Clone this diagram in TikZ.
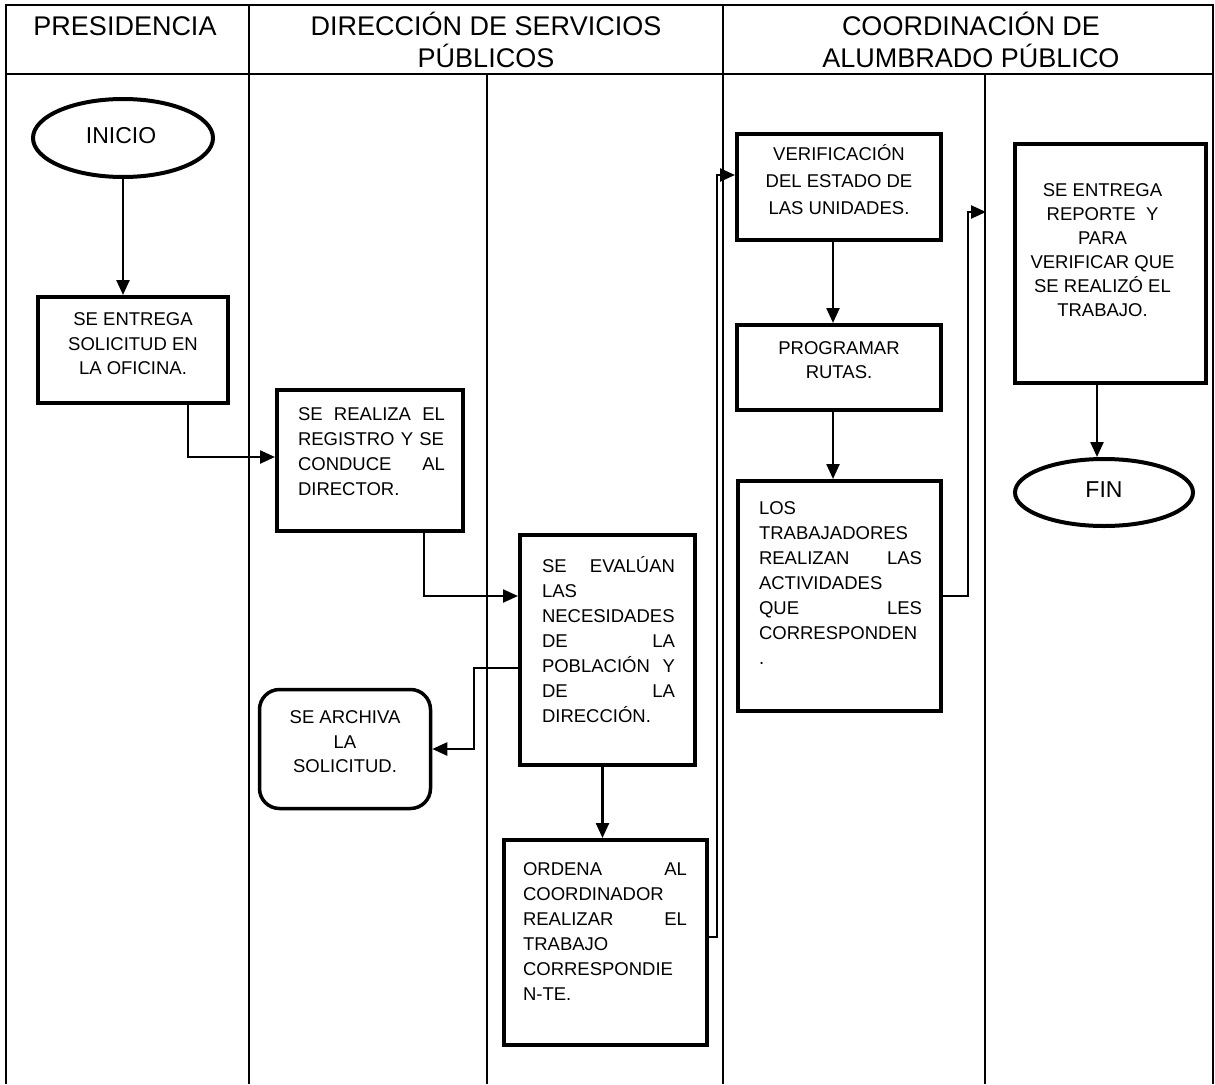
\documentclass[tikz,border=0pt]{standalone}
\usepackage{fontspec}
\setmainfont{Liberation Sans}
\usetikzlibrary{arrows.meta,shapes.geometric}
\tikzset{
  lane/.style={line width=2pt},
  pbox/.style={draw, line width=4pt, inner sep=0pt},
  rbox/.style={draw, line width=3.5pt, inner sep=0pt, rounded corners=20pt},
  term/.style={draw, ellipse, line width=4pt, inner sep=0pt},
  con/.style={line width=2.4pt},
  arr/.style={line width=2.4pt, -{Triangle[length=15pt,width=13pt]}},
  ctxt/.style={font=\fontsize{18.5}{24.5}\selectfont, align=center, inner sep=0pt},
  jtxt/.style={font=\fontsize{18.5}{25}\selectfont, align=left, inner sep=0pt},
  ttxt/.style={font=\fontsize{23}{27}\selectfont, inner sep=0pt},
  head/.style={font=\fontsize{27}{32}\selectfont, align=center, inner sep=0pt}
}
\begin{document}
\begin{tikzpicture}[x=1pt,y=-1pt]
\useasboundingbox (0,0) rectangle (1215,1084);
% lanes
\draw[lane] (6,1084) -- (6,5) -- (1213,5) -- (1213,1084);
\draw[lane] (6,74) -- (1213,74);
\draw[lane] (249,5) -- (249,1084);
\draw[lane] (723,5) -- (723,1084);
\draw[lane] (487,74) -- (487,1084);
\draw[lane] (985,74) -- (985,1084);
% headers
\node[head] (h1) at (125,26) {PRESIDENCIA};
\node[head] (h2) at (486,40) {DIRECCIÓN DE SERVICIOS\\PÚBLICOS};
\node[head] (h3) at (971,40) {COORDINACIÓN DE\\ALUMBRADO PÚBLICO};
% shapes
\node[term, minimum width=180pt, minimum height=78pt] (inicio) at (123,138) {};
\node[pbox, minimum width=190pt, minimum height=106pt] (b1) at (133,350) {};
\node[pbox, minimum width=186pt, minimum height=141pt] (b2) at (370,460.5) {};
\node[pbox, minimum width=175pt, minimum height=230pt] (b3) at (607.5,650) {};
\node[rbox, minimum width=171pt, minimum height=119pt] (b4) at (345,749) {};
\node[pbox, minimum width=203pt, minimum height=205pt] (b5) at (605.5,942.5) {};
\node[pbox, minimum width=204pt, minimum height=106pt] (b6) at (839,187) {};
\node[pbox, minimum width=204pt, minimum height=85pt] (b7) at (839,367.5) {};
\node[pbox, minimum width=203pt, minimum height=230pt] (b8) at (839.5,596) {};
\node[pbox, minimum width=191pt, minimum height=239pt] (b9) at (1110.5,263.5) {};
\node[term, minimum width=178pt, minimum height=67pt] (fin) at (1104,492.5) {};
% texts
\node[ttxt] (tinicio) at (121,136) {INICIO};
\node[ctxt] (t1) at (133,344) {SE ENTREGA\\SOLICITUD EN\\LA OFICINA.};
\node[jtxt, text width=147pt] (t2) at (371.5,452) {SE\hfill REALIZA\hfill EL\\REGISTRO Y SE\\CONDUCE\hfill AL\\DIRECTOR.};
\node[jtxt, text width=133pt] (t3) at (608.5,640) {SE\hfill EVALÚAN\\LAS\\NECESIDADES\\DE\hfill LA\\POBLACIÓN\hfill Y\\DE\hfill LA\\DIRECCIÓN.};
\node[ctxt] (t4) at (345,742) {SE ARCHIVA\\LA\\SOLICITUD.};
\node[jtxt, text width=164pt] (t5) at (605,932) {ORDENA\hfill AL\\COORDINADOR\\REALIZAR\hfill EL\\TRABAJO\\CORRESPONDIE\\N-TE.};
\node[ctxt, font=\fontsize{18.5}{27}\selectfont] (t6) at (839,180) {VERIFICACIÓN\\DEL ESTADO DE\\LAS UNIDADES.};
\node[ctxt] (t7) at (839,360) {PROGRAMAR\\RUTAS.};
\node[jtxt, text width=163pt] (t8) at (840.5,583) {LOS\\TRABAJADORES\\REALIZAN\hfill LAS\\ACTIVIDADES\\QUE\hfill LES\\CORRESPONDEN\\.};
\node[ctxt, font=\fontsize{18.5}{24}\selectfont] (t9) at (1102.5,250) {SE ENTREGA\\REPORTE~ Y\\PARA\\VERIFICAR QUE\\SE REALIZÓ EL\\TRABAJO.};
\node[ttxt] (tfin) at (1104,490) {FIN};
% connectors
\coordinate (r9) at (986,212);
\draw[arr] (inicio.south) -- (inicio.south |- b1.north);
\draw[arr] ([xshift=55pt]b1.south) |- ([yshift=3.5pt]b2.west);
\draw[arr] ([xshift=54pt]b2.south) |- ([yshift=54pt]b3.west);
\draw[arr] ([yshift=-18pt]b3.west) -- ++(-44pt,0) |- (b4.east);
\draw[arr] ([xshift=-5pt]b3.south) -- ([xshift=-5pt]b3.south |- b5.north);
\draw[arr] ([yshift=5.5pt]b5.east) -- ++(8pt,0) |- ([yshift=12pt]b6.west);
\draw[arr] ([xshift=-6pt]b6.south) -- ([xshift=-6pt]b6.south |- b7.north);
\draw[arr] ([xshift=-6pt]b7.south) -- ([xshift=-6pt]b7.south |- b8.north);
\draw[arr] (b8.east) -- ++(25pt,0) |- (r9);
\draw[arr] ([xshift=-13.5pt]b9.south) -- ([xshift=-13.5pt]b9.south |- fin.north);
\end{tikzpicture}
\end{document}
